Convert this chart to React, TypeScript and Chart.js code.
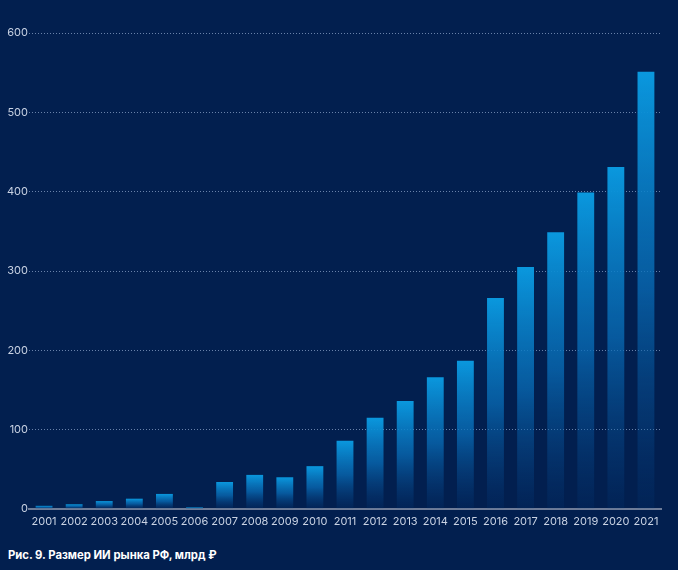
import React, { useEffect, useRef } from "react";
import { Chart, registerables } from "chart.js";

Chart.register(...registerables);

const years = [
  "2001", "2002", "2003", "2004", "2005", "2006", "2007", "2008", "2009", "2010", "2011",
  "2012", "2013", "2014", "2015", "2016", "2017", "2018", "2019", "2020", "2021",
];
const marketSize = [4, 6, 10, 13, 19, 2, 34, 43, 40, 54, 86, 115, 136, 166, 187, 266, 305, 349, 399, 431, 551];
const yTicks = [0, 100, 200, 300, 400, 500, 600];
const caption = "Рис. 9. Размер ИИ рынка РФ, млрд ₽";

const BG = "#021f4f";

export default function App() {
  const ref = useRef<HTMLCanvasElement | null>(null);

  useEffect(() => {
    document.body.style.margin = "0";
    document.body.style.background = BG;
    const canvas = ref.current;
    if (!canvas) return;
    const chart = new Chart(canvas, {
      type: "bar",
      data: {
        labels: years,
        datasets: [
          {
            data: marketSize,
            backgroundColor: (c: any) => {
              const ch = c.chart;
              const y = ch.scales && ch.scales.y;
              if (!y || !ch.chartArea || c.raw === undefined) return "#0a96dc";
              const top = y.getPixelForValue(c.raw);
              const bottom = y.getPixelForValue(0);
              if (!isFinite(top) || !isFinite(bottom) || bottom - top < 1) return "#0a96dc";
              const g = ch.ctx.createLinearGradient(0, top, 0, bottom);
              g.addColorStop(0, "rgba(10,152,222,1)");
              g.addColorStop(0.5, "rgba(9,110,185,0.75)");
              g.addColorStop(1, "rgba(8,70,140,0.12)");
              return g;
            },
            borderWidth: 0,
            barPercentage: 0.56,
            categoryPercentage: 1,
          },
        ],
      },
      options: {
        animation: false,
        responsive: false,
        maintainAspectRatio: false,
        layout: { padding: { top: 33, right: 17, left: 0, bottom: 0 } },
        plugins: { legend: { display: false }, tooltip: { enabled: false } },
        scales: {
          x: {
            grid: { display: false, drawTicks: false },
            border: { display: true, color: "#6e7c98", width: 2 },
            ticks: {
              color: "#c9d2e3",
              font: { family: "Inter", size: 11 },
              padding: 6,
              maxRotation: 0,
              autoSkip: false,
            },
            afterFit: (s: any) => {
              s.height = 31;
            },
          },
          y: {
            min: 0,
            max: 600,
            afterBuildTicks: (s: any) => {
              s.ticks = yTicks.map((v) => ({ value: v }));
            },
            grid: {
              color: "rgba(150,172,210,0.7)",
              lineWidth: 1,
              drawTicks: false,
            },
            border: { display: false, dash: [1, 2] },
            ticks: {
              color: "#c9d2e3",
              font: { family: "Inter", size: 11 },
              padding: 1,
            },
            afterFit: (s: any) => {
              s.width = 29;
            },
          },
        },
      },
    });
    return () => chart.destroy();
  }, []);

  return (
    <div style={{ position: "relative", width: 678, height: 570, background: BG, overflow: "hidden" }}>
      <canvas ref={ref} width={678} height={540} style={{ display: "block" }} />
      <div
        style={{
          position: "absolute",
          left: 8,
          top: 548,
          color: "#ffffff",
          fontFamily: "Inter, sans-serif",
          fontWeight: 700,
          fontSize: 11.3,
          lineHeight: "14px",
          whiteSpace: "nowrap",
        }}
      >
        {caption}
      </div>
    </div>
  );
}
